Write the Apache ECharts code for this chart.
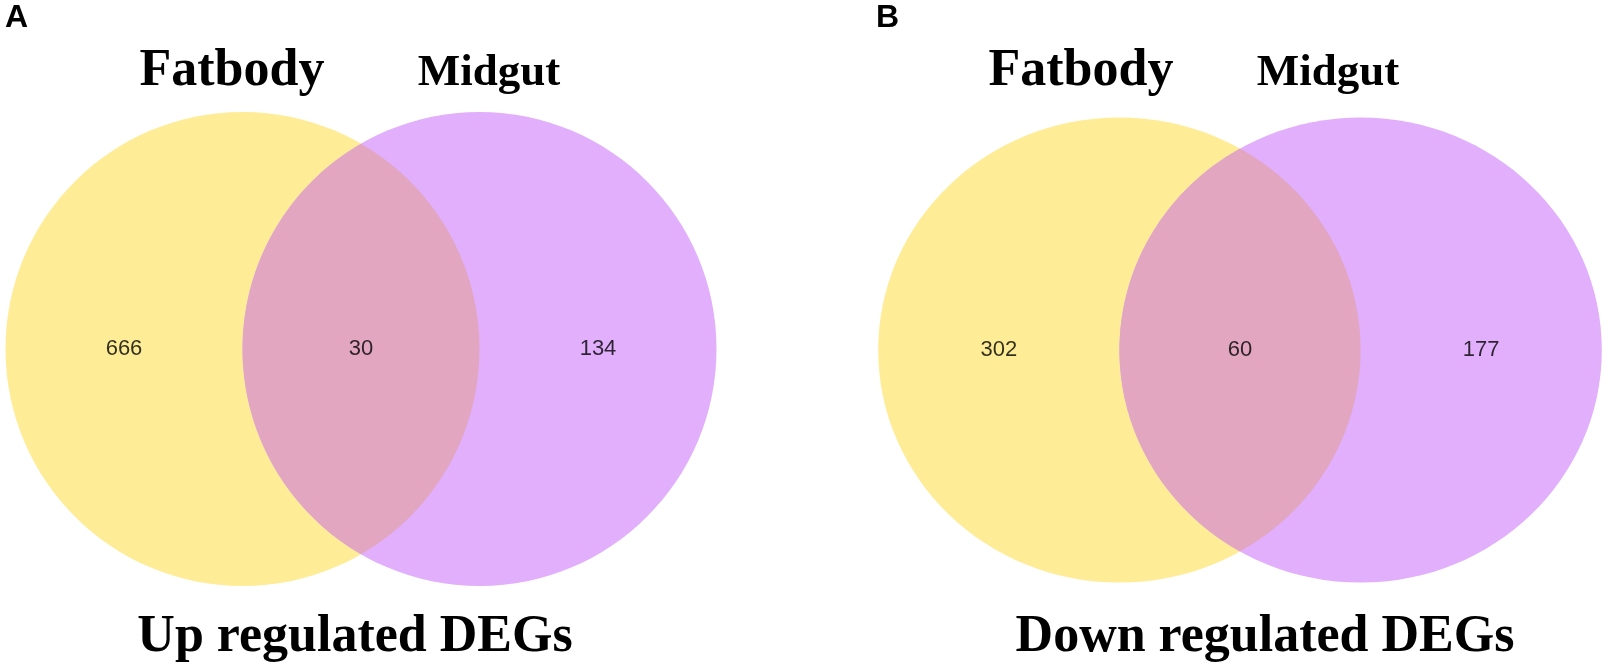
<!DOCTYPE html>
<html>
<head>
<meta charset="utf-8">
<title>Venn DEGs</title>
<script src="https://cdn.jsdelivr.net/npm/echarts@6/dist/echarts.min.js"></script>
<style>
  html, body { margin: 0; padding: 0; background: #fff; }
  #chart { width: 1604px; height: 667px; }
</style>
</head>
<body>
<div id="chart"></div>
<script>
// data
var setNames = ['Fatbody', 'Midgut'];
var panelLetters = ['A', 'B'];
var panelTitles = ['Up regulated DEGs', 'Down regulated DEGs'];
// [only Fatbody, both, only Midgut]
var upCounts = [666, 30, 134];
var downCounts = [302, 60, 177];

// layout (data units of each panel's hidden axes)
var circleX = [-1, 1];
var radius = 2.0;
var countX = [-2.0, 0, 2.0];
var colors = ['#FEEC96', '#E1AFFC', '#E2A6C1'];

(function(window){
    var chart = echarts.init(document.getElementById('chart'));
    // panel B is a bit wider and a bit flatter than panel A
    var panels = [
        { cx: 361, cy: 349, px: 118.5, py: 118.5, counts: upCounts, names: [232, 489], letter: 5, title: 355 },
        { cx: 1240, cy: 350, px: 120.6, py: 116.3, counts: downCounts, names: [1081, 1328], letter: 876, title: 1265 }
    ];
    var nameSize = [52, 45], nameTop = [46, 51];

    function renderVenn(params, api){
        var c1 = api.coord([circleX[0], 0]),
            c2 = api.coord([circleX[1], 0]),
            size = api.size([radius, radius]),
            rx = size[0], ry = size[1],
            mx = (c1[0] + c2[0]) / 2,
            dx = (c2[0] - c1[0]) / 2,
            h = ry * Math.sqrt(1 - (dx * dx) / (rx * rx)),
            cy = c1[1];
        var lens = 'M' + mx + ',' + (cy - h) +
            ' A' + rx + ',' + ry + ' 0 0 1 ' + mx + ',' + (cy + h) +
            ' A' + rx + ',' + ry + ' 0 0 1 ' + mx + ',' + (cy - h) + ' Z';
        return {
            type: 'group',
            children: [
                { type: 'ellipse', shape: { cx: c1[0], cy: cy, rx: rx, ry: ry }, style: { fill: colors[0] } },
                { type: 'ellipse', shape: { cx: c2[0], cy: cy, rx: rx, ry: ry }, style: { fill: colors[1] } },
                { type: 'path', shape: { pathData: lens }, style: { fill: colors[2] } }
            ]
        };
    }

    var grids = [], xAxes = [], yAxes = [], series = [], titles = [];
    var serif = 'Liberation Serif, Times New Roman, serif',
        sans = 'Liberation Sans, Arial, sans-serif';
    panels.forEach(function(p, i){
        var w = 6 * p.px, h = 4.2 * p.py;
        grids.push({ left: p.cx - w / 2, top: p.cy - h / 2, width: w, height: h });
        xAxes.push({ type: 'value', gridIndex: i, min: -3, max: 3, show: false });
        yAxes.push({ type: 'value', gridIndex: i, min: -2.1, max: 2.1, show: false });
        series.push({
            type: 'custom',
            xAxisIndex: i, yAxisIndex: i,
            renderItem: renderVenn,
            data: [[0, 0]],
            silent: true
        });
        series.push({
            type: 'scatter',
            xAxisIndex: i, yAxisIndex: i,
            symbolSize: 0,
            silent: true,
            label: {
                show: true, position: 'inside',
                formatter: function(d){ return d.value[2]; },
                fontFamily: sans, fontSize: 22, color: '#000'
            },
            data: p.counts.map(function(v, k){ return [countX[k], 0, v]; })
        });
        titles.push({
            text: panelLetters[i], left: p.letter, top: 2, padding: 0,
            textStyle: { fontFamily: sans, fontWeight: 'bold', fontSize: 32, color: '#000' }
        });
        setNames.forEach(function(n, k){
            titles.push({
                text: n, left: p.names[k], top: nameTop[k], padding: 0, textAlign: 'center',
                textStyle: { fontFamily: serif, fontWeight: 'bold', fontSize: nameSize[k], color: '#000' }
            });
        });
        titles.push({
            text: panelTitles[i], left: p.title, top: 612, padding: 0, textAlign: 'center',
            textStyle: { fontFamily: serif, fontWeight: 'bold', fontSize: 52, color: '#000' }
        });
    });

    chart.setOption({
        animation: false,
        backgroundColor: '#fff',
        title: titles,
        grid: grids,
        xAxis: xAxes,
        yAxis: yAxes,
        series: series
    });
})(window);
</script>
</body>
</html>
